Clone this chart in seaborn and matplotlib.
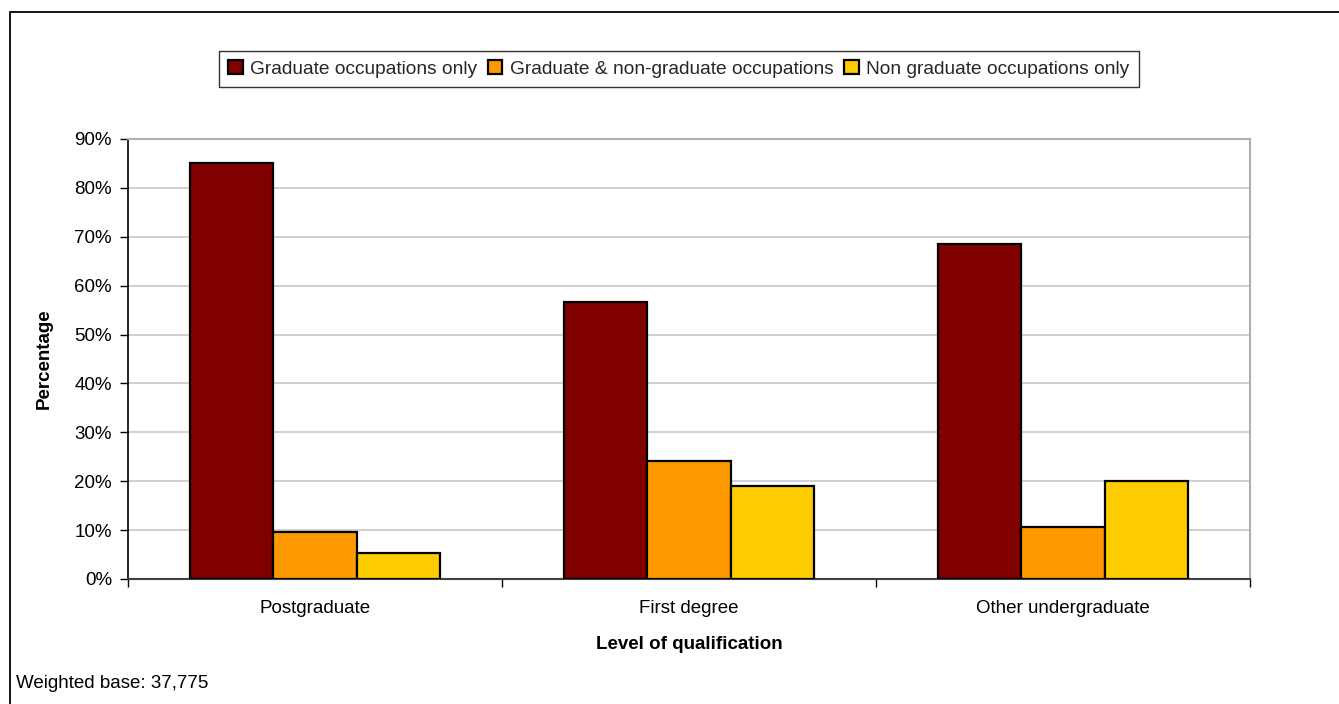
import matplotlib
matplotlib.use("Agg")
import matplotlib.pyplot as plt
from matplotlib.lines import Line2D
from matplotlib.ticker import FixedLocator, PercentFormatter
import pandas as pd
import seaborn as sns

# Share of employed graduates by occupation type and level of qualification
levels = ["Postgraduate", "First degree", "Other undergraduate"]
series = ["Graduate occupations only",
          "Graduate & non-graduate occupations",
          "Non graduate occupations only"]
graduate_only = [85.0, 56.7, 68.6]
graduate_and_non = [9.6, 24.1, 10.7]
non_graduate_only = [5.3, 19.1, 20.0]
colors = ["#800000", "#FF9900", "#FFCC00"]
y_ticks = [0, 10, 20, 30, 40, 50, 60, 70, 80, 90]

df = pd.DataFrame({
    "level": levels * 3,
    "occupation": [s for s in series for _ in levels],
    "pct": graduate_only + graduate_and_non + non_graduate_only,
})

sns.set_theme(style="white")
plt.rcParams["font.family"] = ["Liberation Sans", "DejaVu Sans"]

fig = plt.figure(figsize=(13.39, 7.04), dpi=100)
ax = fig.add_axes([0.0956, 0.1776, 0.8379, 0.625])

sns.barplot(data=df, x="level", y="pct", hue="occupation", order=levels,
            hue_order=series, palette=colors, width=0.667, gap=0,
            edgecolor="black", linewidth=1.6, saturation=1, ax=ax,
            legend=True, zorder=3)

ax.set_xlim(-0.5, len(levels) - 0.5)
ax.set_ylim(0, 90)
ax.yaxis.set_major_locator(FixedLocator(y_ticks))
ax.yaxis.set_major_formatter(PercentFormatter(decimals=0))
ax.grid(axis="y", color="#c8c8c8", linewidth=1.2, zorder=0)
ax.set_axisbelow(True)

# category boundary ticks on x, labels centred between them
ax.set_xticks([-0.5, 0.5, 1.5, 2.5])
ax.set_xticklabels([])
ax.set_xticks(range(len(levels)), minor=True)
ax.set_xticklabels(levels, minor=True)
ax.tick_params(axis="x", which="major", direction="out", length=6,
               width=1, color="black", bottom=True)
ax.tick_params(axis="x", which="minor", length=0, pad=15.5, labelsize=13.5,
               labelcolor="black")
ax.tick_params(axis="y", direction="out", length=6, width=1, color="black",
               left=True, pad=5.5, labelsize=13.5, labelcolor="black")

for side in ["top", "right"]:
    ax.spines[side].set_color("#b0b0b0")
    ax.spines[side].set_linewidth(1.5)
ax.spines["left"].set_color("black")
ax.spines["left"].set_linewidth(1.2)
ax.spines["bottom"].set_color("#404040")
ax.spines["bottom"].set_linewidth(1.5)

ax.set_xlabel("Level of qualification", fontsize=13.5, fontweight="bold",
              color="black")
ax.set_ylabel("Percentage", fontsize=13.5, fontweight="bold", color="black")
ax.xaxis.set_label_coords(0.5, -0.1295)
ax.yaxis.set_label_coords(-0.0668, 0.5)

handles, labels = ax.get_legend_handles_labels()
ax.get_legend().remove()
leg = fig.legend(handles, labels, loc="center", ncol=3,
                 bbox_to_anchor=(679 / 1339, 1 - 69 / 704),
                 fontsize=13.8, frameon=True, fancybox=False,
                 handlelength=0.75, handleheight=0.75, handletextpad=0.4,
                 columnspacing=0.55, borderpad=0.5, borderaxespad=0)
leg.get_frame().set_edgecolor("black")
leg.get_frame().set_linewidth(1.0)

fig.text(16 / 1339, 1 - 684 / 704, "Weighted base: 37,775", fontsize=13.5,
         ha="left", va="center", color="black")

# outer chart frame (left and top edges)
x0, y0 = 10 / 1339, 1 - 12 / 704
fig.add_artist(Line2D([x0, x0], [0, y0], transform=fig.transFigure,
                      color="black", linewidth=1.3))
fig.add_artist(Line2D([x0, 1], [y0, y0], transform=fig.transFigure,
                      color="black", linewidth=1.3))

fig.savefig("out.png", dpi=100, facecolor="white")
